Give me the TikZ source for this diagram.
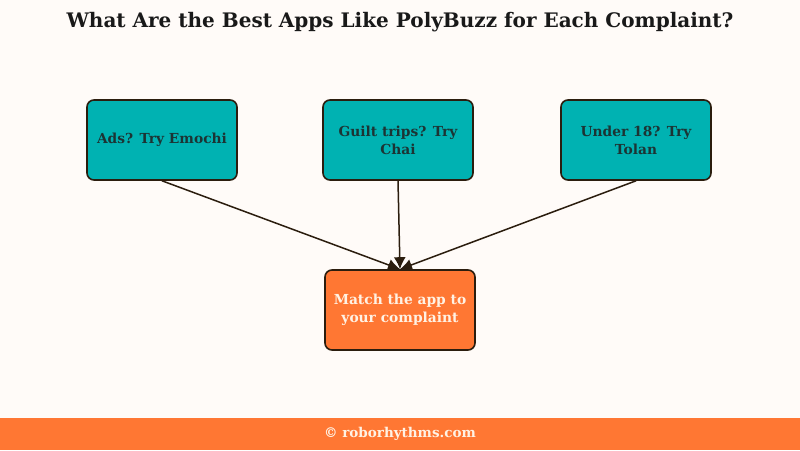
\documentclass[tikz,border=0pt]{standalone}
\usepackage{fontspec}
\setmainfont{DejaVu Serif}
\usetikzlibrary{arrows.meta}
\definecolor{bgcream}{HTML}{FFFBF8}
\definecolor{tealbox}{HTML}{00B2B2}
\definecolor{orangebox}{HTML}{FF7733}
\definecolor{edgedark}{HTML}{2B1D0E}
\definecolor{tealtext}{HTML}{1C3434}
\definecolor{lighttext}{HTML}{FFF2E4}
\begin{document}
\begin{tikzpicture}[x=1pt,y=1pt]
	\def \rowtop{310}
	\def \rowbot{140}
	\tikzstyle{app-node}=[draw=edgedark,line width=1.6pt,fill=tealbox,rounded corners=7pt,minimum width=150pt,minimum height=80pt,align=center,text=tealtext,font=\fontsize{13.8}{18}\selectfont\bfseries]
	\tikzstyle{goal-node}=[app-node,fill=orangebox,text=lighttext]
	\tikzstyle{link}=[draw=edgedark,line width=1.5pt,-{Latex[length=12pt,width=12pt]}]
	% canvas
	\fill[bgcream] (0,0) rectangle (800,450);
	\fill[orangebox] (0,0) rectangle (800,32);
	\useasboundingbox (0,0) rectangle (800,450);
	% title and footer
	\node[font=\fontsize{20}{24}\selectfont\bfseries,text=black!90] (title) at (400,428) {What Are the Best Apps Like PolyBuzz for Each Complaint?};
	\node[font=\fontsize{13.5}{16}\selectfont\bfseries,text=lighttext] (footer) at (400,16) {© roborhythms.com};

	% complaints
	\node[app-node] (ads)   at (162,\rowtop) {Ads? Try Emochi};
	\node[app-node] (guilt) at (398,\rowtop) {Guilt trips? Try\\Chai};
	\node[app-node] (under) at (636,\rowtop) {Under 18? Try\\Tolan};

	% result
	\node[goal-node] (match) at (400,\rowbot) {Match the app to\\your complaint};

	\draw[link] (ads.south)   -- (match.north);
	\draw[link] (guilt.south) -- (match.north);
	\draw[link] (under.south) -- (match.north);
\end{tikzpicture}
\end{document}
